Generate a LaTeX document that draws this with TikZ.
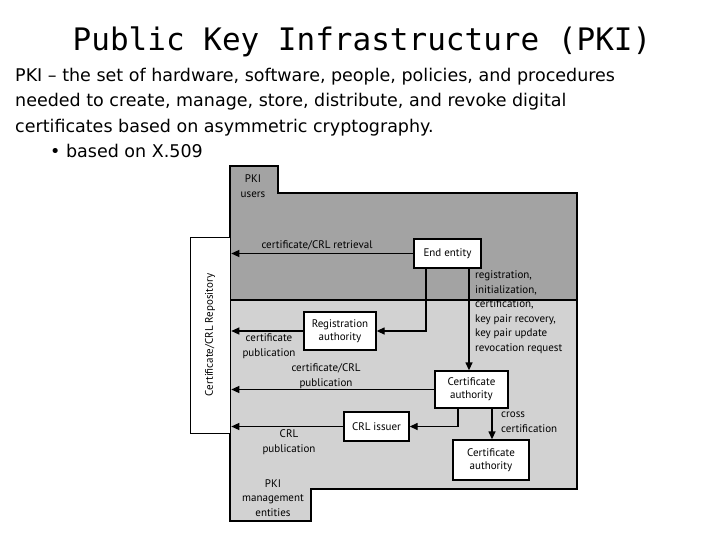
\documentclass[tikz,border=0pt]{standalone}
\usepackage{fontspec}
\setmainfont{DejaVu Sans}
\newfontfamily\titlefont{DejaVu Sans Mono}
\newfontfamily\dfont{PT Sans}
\usetikzlibrary{arrows.meta}
\definecolor{dark}{HTML}{A3A3A3}
\definecolor{light}{HTML}{D2D2D2}
\begin{document}
\begin{tikzpicture}[x=1pt,y=-1pt,
  box/.style={draw=black,line width=1.3pt,fill=white,font=\dfont\fontsize{11}{13}\selectfont,align=center,inner sep=0pt},
  lab/.style={font=\dfont\fontsize{11}{14.5}\selectfont,align=center,inner sep=0pt},
  arr/.style={line width=1.3pt,-{Triangle[length=8pt,width=7pt]}}]
\useasboundingbox[fill=white] (0,0) rectangle (720,540);
\node[font=\titlefont\fontsize{31}{31}\selectfont] (title) at (362,42) {Public Key Infrastructure (PKI)};
\node[anchor=north west,align=left,font=\fontsize{17.5}{25.5}\selectfont,inner sep=0pt] (txt) at (15,68)
 {PKI -- the set of hardware, software, people, policies, and procedures\\needed to create, manage, store, distribute, and revoke digital\\certificates based on asymmetric cryptography.\\\hspace*{35pt}\textbullet\ based on X.509};
% regions
\fill[dark] (230,166) -- (278,166) -- (278,193) -- (577,193) -- (577,300) -- (230,300) -- cycle;
\fill[light] (230,300) -- (577,300) -- (577,489) -- (311,489) -- (311,521) -- (230,521) -- cycle;
\draw[line width=1.3pt] (230,166) -- (278,166) -- (278,193) -- (577,193) -- (577,489) -- (311,489) -- (311,521) -- (230,521) -- cycle;
\draw[line width=1.3pt] (230,300) -- (577,300);
% nodes
\node[box,minimum width=40pt,minimum height=196pt,anchor=north west] (repo) at (190,237) {};
\node[lab,rotate=90] (repolab) at (210,335) {Certificate/CRL Repository};
\node[box,minimum width=67pt,minimum height=29pt] (ee) at (447.5,253.5) {End entity};
\node[box,minimum width=72pt,minimum height=38pt] (ra) at (340,331) {Registration\\authority};
\node[box,minimum width=73pt,minimum height=37pt] (ca1) at (471.5,389.5) {Certificate\\authority};
\node[box,minimum width=65pt,minimum height=29pt] (crl) at (376.5,426.5) {CRL issuer};
\node[box,minimum width=76pt,minimum height=40pt] (ca2) at (491,460) {Certificate\\authority};
% arrows
\draw[arr] (ee.west) -- (repo.east |- ee.west);
\draw[arr] (ee.south -| 426,0) |- (ra.east);
\draw[arr] (ra.west) -- (repo.east |- ra.west);
\draw[arr] (ee.south -| 469,0) -- (ca1.north -| 469,0);
\draw[arr] (ca1.west) -- (repo.east |- ca1.west);
\draw[arr] (ca1.south -| 458,0) |- (crl.east);
\draw[arr] (crl.west) -- (repo.east |- crl.west);
\draw[arr] (ca1.south -| 492,0) -- (ca2.north -| 492,0);
% labels
\node[lab] (l1) at (317,245) {certificate/CRL retrieval};
\node[lab,align=left,anchor=north west] (l2) at (475,271) {registration,\\initialization,\\certification,\\key pair recovery,\\key pair update\\revocation request};
\node[lab] (l3) at (269,346) {certificate\\publication};
\node[lab] (l4) at (326,376) {certificate/CRL\\publication};
\node[lab] (l5) at (289,442) {CRL\\publication};
\node[lab,align=left,anchor=west] (l6) at (501,422) {cross\\certification};
\node[lab] (l7) at (253,186) {PKI\\users};
\node[lab] (l8) at (273,498) {PKI\\management\\entities};
\end{tikzpicture}
\end{document}
